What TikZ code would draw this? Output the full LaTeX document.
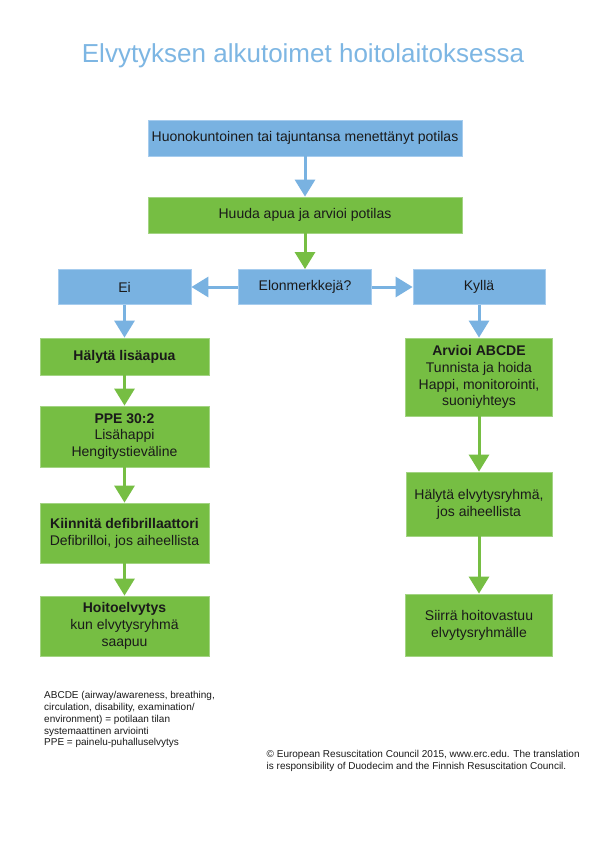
\documentclass[tikz,border=0pt]{standalone}
\usepackage{fontspec}
\setmainfont{Liberation Sans}
\usetikzlibrary{arrows.meta}
\definecolor{bfill}{HTML}{79B2E1}
\definecolor{gfill}{HTML}{76BE43}
\definecolor{bedge}{HTML}{A6CCEE}
\definecolor{gedge}{HTML}{A3D483}
\definecolor{titleblue}{HTML}{7DB6E3}
\definecolor{txt}{HTML}{1A1A1A}
\begin{document}
\begin{tikzpicture}[x=1pt,y=-1pt,
  box/.style={rectangle, inner sep=0pt, align=center, text=txt,
    font=\fontsize{14}{16.8}\selectfont, line width=0.8pt},
  bluebox/.style={box, fill=bfill, draw=bedge},
  greenbox/.style={box, fill=gfill, draw=gedge},
  conn/.style={line width=3pt, -{Triangle[width=20pt,length=17pt]}},
  bconn/.style={conn, draw=bfill},
  gconn/.style={conn, draw=gfill},
  note/.style={inner sep=0pt, align=left, text=txt, font=\fontsize{10}{11.75}\selectfont}
]
\useasboundingbox (0,0) rectangle (595,842);
\fill[white] (0,0) rectangle (595,842);

\node[anchor=base, text=titleblue, font=\fontsize{26}{30}\selectfont, inner sep=0pt] (title) at (303,63) {Elvytyksen alkutoimet hoitolaitoksessa};

\node[bluebox, minimum width=314pt, minimum height=36pt] (b1) at (305,138) {Huonokuntoinen tai tajuntansa menettänyt potilas};
\node[greenbox, minimum width=314pt, minimum height=36pt] (b2) at (305,215) {Huuda apua ja arvioi potilas};
\node[bluebox, minimum width=133pt, minimum height=35pt] (elon) at (305,287) {Elonmerkkejä?};
\node[bluebox, minimum width=133pt, minimum height=35pt] (ei) at (124.5,287) {Ei};
\node[bluebox, minimum width=132pt, minimum height=35pt] (kylla) at (479,287) {Kyllä};

\node[greenbox, minimum width=169pt, minimum height=37pt] (l1) at (124.5,356.5) {\textbf{Hälytä lisäapua}};
\node[greenbox, minimum width=169pt, minimum height=61pt] (l2) at (124.5,436.5) {\textbf{PPE 30:2}\\Lisähappi\\Hengitystieväline};
\node[greenbox, minimum width=169pt, minimum height=60pt] (l3) at (124.5,533) {\textbf{Kiinnitä defibrillaattori}\\Defibrilloi, jos aiheellista};
\node[greenbox, minimum width=169pt, minimum height=60pt] (l4) at (124.5,626) {\textbf{Hoitoelvytys}\\kun elvytysryhmä\\saapuu};

\node[greenbox, minimum width=147pt, minimum height=78pt] (r1) at (479,377) {\textbf{Arvioi ABCDE}\\Tunnista ja hoida\\Happi, monitorointi,\\suoniyhteys};
\node[greenbox, minimum width=146pt, minimum height=64pt] (r2) at (479,504) {Hälytä elvytysryhmä,\\jos aiheellista};
\node[greenbox, minimum width=147pt, minimum height=62pt] (r3) at (479,625) {Siirrä hoitovastuu\\elvytysryhmälle};

\draw[bconn] (b1) -- (b2);
\draw[gconn] (b2) -- (elon);
\draw[bconn] (elon) -- (ei);
\draw[bconn] (elon) -- (kylla);
\draw[bconn] (ei) -- (l1);
\draw[bconn] (kylla) -- (r1);
\draw[gconn] (l1) -- (l2);
\draw[gconn] (l2) -- (l3);
\draw[gconn] (l3) -- (l4);
\draw[gconn] (r1) -- (r2);
\draw[gconn] (r2) -- (r3);

\node[note, anchor=north west] (abbr) at (44,691.5) {ABCDE (airway/awareness, breathing,\\circulation, disability, examination/\\environment) = potilaan tilan\\systemaattinen arviointi\\PPE = painelu-puhalluselvytys};
\node[note, anchor=north west] (copy) at (266.5,750.5) {© European Resuscitation Council 2015, www.erc.edu. The translation\\is responsibility of Duodecim and the Finnish Resuscitation Council.};
\end{tikzpicture}
\end{document}
